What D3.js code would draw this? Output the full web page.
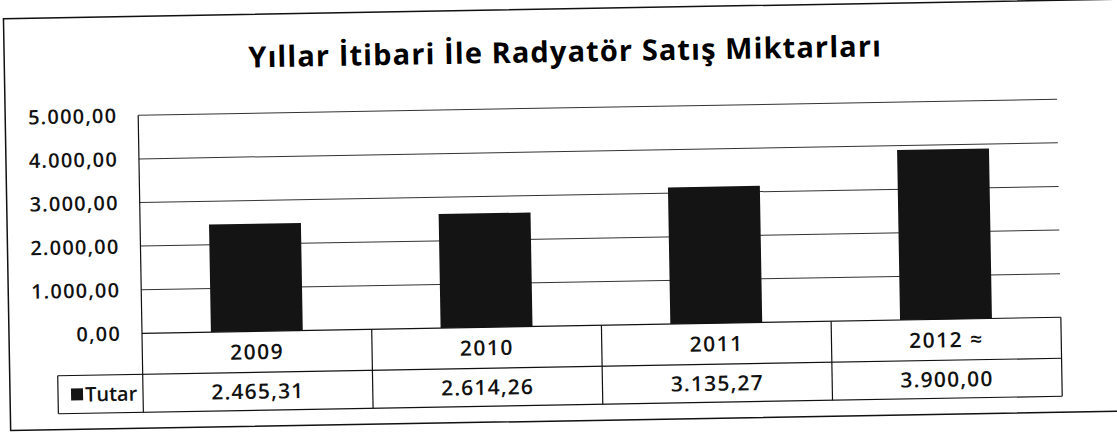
<!DOCTYPE html>
<html lang="tr">
<head>
    <meta charset="utf-8">
    <title>Yıllar İtibari İle Radyatör Satış Miktarları</title>
    <script type="text/javascript" src="https://d3js.org/d3.v7.min.js"></script>
    <style type="text/css">
        body { margin: 0; background: #fff; }
        svg { font-family: "Open Sans", sans-serif; }
    </style>
</head>
<body>
<script type="text/javascript">

    // chart data
    var years = ["2009", "2010", "2011", "2012 ≈"];
    var values = [2465.31, 2614.26, 3135.27, 3900.00];
    var yTicks = [0, 1000, 2000, 3000, 4000, 5000];
    var seriesName = "Tutar";
    var title = "Yıllar İtibari İle Radyatör Satış Miktarları";

    var width = 1117, height = 433;
    var plotLeft = 140, plotRight = 1059, plotTop = 108, zero = 326;
    var row1 = 367, row2 = 405;

    var tr = d3.formatLocale({decimal: ",", thousands: ".", grouping: [3], currency: ["", ""]});
    var fmt = tr.format(",.2f");

    var svg = d3.select("body")
        .append("svg")
        .attr("width", width)
        .attr("height", height);

    // the scan is tilted a little
    var g = svg.append("g")
        .attr("transform", "rotate(-1,558,216)");

    var x = d3.scaleBand()
        .domain(years)
        .range([plotLeft, plotRight])
        .paddingInner(0)
        .paddingOuter(0);

    var y = d3.scaleLinear()
        .domain([0, 5000])
        .range([zero, plotTop]);

    // outer frame
    g.append("rect")
        .attr("x", 7).attr("y", 9)
        .attr("width", 1125).attr("height", 412)
        .attr("fill", "none")
        .attr("stroke", "#111")
        .attr("stroke-width", 1.5);

    g.append("text")
        .attr("x", 568).attr("y", 62)
        .attr("text-anchor", "middle")
        .attr("font-size", 29)
        .attr("font-weight", 700)
        .attr("letter-spacing", 1.1)
        .attr("fill", "#000")
        .text(title);

    // gridlines
    g.selectAll(".grid")
        .data(yTicks.filter(function(d) { return d > 0; }))
        .enter()
        .append("line")
        .attr("class", "grid")
        .attr("x1", plotLeft).attr("x2", plotRight)
        .attr("y1", function(d) { return y(d); })
        .attr("y2", function(d) { return y(d); })
        .attr("stroke", "#333")
        .attr("stroke-width", 1);

    // y axis labels
    g.selectAll(".ylab")
        .data(yTicks)
        .enter()
        .append("text")
        .attr("class", "ylab")
        .attr("x", 119)
        .attr("y", function(d) { return y(d); })
        .attr("dy", "0.36em")
        .attr("text-anchor", "end")
        .attr("font-size", 20)
        .attr("font-weight", 600)
        .attr("letter-spacing", 1.2)
        .attr("fill", "#111")
        .text(function(d) { return fmt(d); });

    // bars
    var bw = x.bandwidth() * 0.4;
    g.selectAll(".bar")
        .data(values)
        .enter()
        .append("rect")
        .attr("class", "bar")
        .attr("x", function(d, i) { return x(years[i]) + x.bandwidth() / 2 - bw / 2; })
        .attr("y", function(d) { return y(d); })
        .attr("width", bw)
        .attr("height", function(d) { return zero - y(d); })
        .attr("fill", "#141414");

    // data table lines
    var stroke = "#111";
    g.append("line")
        .attr("x1", plotLeft).attr("x2", plotRight)
        .attr("y1", zero).attr("y2", zero)
        .attr("stroke", stroke).attr("stroke-width", 1.2);
    g.append("line")
        .attr("x1", 55).attr("x2", plotRight)
        .attr("y1", row1).attr("y2", row1)
        .attr("stroke", stroke).attr("stroke-width", 1.2);
    g.append("line")
        .attr("x1", 55).attr("x2", plotRight)
        .attr("y1", row2).attr("y2", row2)
        .attr("stroke", stroke).attr("stroke-width", 1.2);
    g.append("line")
        .attr("x1", 55).attr("x2", 55)
        .attr("y1", row1).attr("y2", row2)
        .attr("stroke", stroke).attr("stroke-width", 1.2);
    // plot left edge runs down through the table
    g.append("line")
        .attr("x1", plotLeft).attr("x2", plotLeft)
        .attr("y1", plotTop).attr("y2", row2)
        .attr("stroke", stroke).attr("stroke-width", 1.2);

    g.selectAll(".vsep")
        .data(years)
        .enter()
        .append("line")
        .attr("class", "vsep")
        .attr("x1", function(d) { return x(d) + x.bandwidth(); })
        .attr("x2", function(d) { return x(d) + x.bandwidth(); })
        .attr("y1", zero).attr("y2", row2)
        .attr("stroke", stroke).attr("stroke-width", 1.2);

    // year row
    g.selectAll(".year")
        .data(years)
        .enter()
        .append("text")
        .attr("class", "year")
        .attr("x", function(d) { return x(d) + x.bandwidth() / 2; })
        .attr("y", (zero + row1) / 2)
        .attr("dy", "0.36em")
        .attr("text-anchor", "middle")
        .attr("font-size", 21)
        .attr("font-weight", 600)
        .attr("letter-spacing", 1.5)
        .attr("fill", "#111")
        .text(function(d) { return d; });

    // value row
    g.selectAll(".val")
        .data(values)
        .enter()
        .append("text")
        .attr("class", "val")
        .attr("x", function(d, i) { return x(years[i]) + x.bandwidth() / 2; })
        .attr("y", (row1 + row2) / 2)
        .attr("dy", "0.36em")
        .attr("text-anchor", "middle")
        .attr("font-size", 21)
        .attr("font-weight", 600)
        .attr("letter-spacing", 1.2)
        .attr("fill", "#111")
        .text(function(d) { return fmt(d); });

    // legend key in the table
    g.append("rect")
        .attr("x", 68).attr("y", (row1 + row2) / 2 - 6)
        .attr("width", 12).attr("height", 12)
        .attr("fill", "#141414");
    g.append("text")
        .attr("x", 82)
        .attr("y", (row1 + row2) / 2)
        .attr("dy", "0.36em")
        .attr("font-size", 20)
        .attr("font-weight", 600)
        .attr("fill", "#111")
        .text(seriesName);

</script>
</body>
</html>
